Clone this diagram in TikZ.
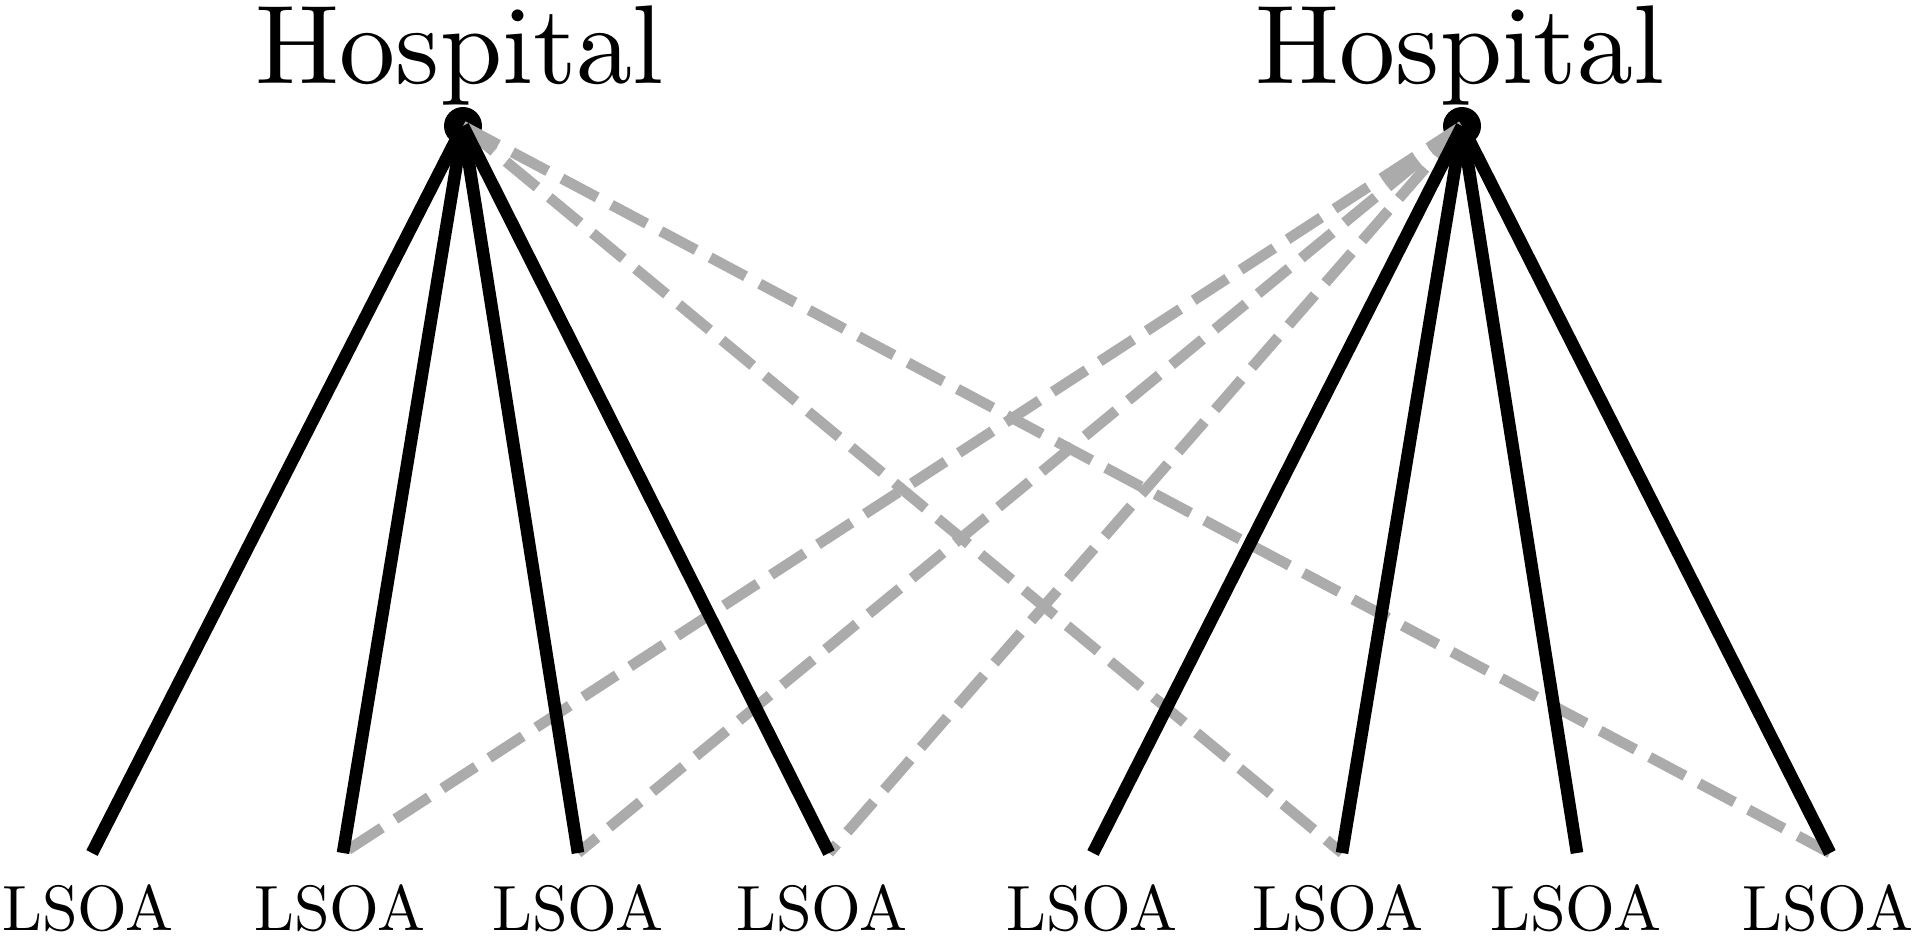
\documentclass[tikz,border=0pt]{standalone}
\font\hospfont="[lmroman10-regular]" at 56pt
\font\lsoafont="[lmroman10-regular]" at 32pt
\begin{document}
\begin{tikzpicture}[x=0.5pt,y=-0.5pt,
  hosp/.style={circle,fill=black,inner sep=0pt,minimum size=19pt},
  hlabel/.style={anchor=base,inner sep=0pt,font=\hospfont},
  llabel/.style={anchor=base,inner sep=0pt,font=\lsoafont},
  solidlink/.style={line width=6.3pt,black},
  dashlink/.style={line width=5.3pt,black!33,dash pattern=on 20pt off 8pt}]
\useasboundingbox (0,0) rectangle (1921,937);
% hospitals
\node[hosp] (h1) at (463,126) {};
\node[hosp] (h2) at (1462,126) {};
\node[hlabel] (h1t) at (460,83) {Hospital};
\node[hlabel] (h2t) at (1460,83) {Hospital};
% leaf end points
\coordinate (l1) at (92,853);
\coordinate (l2) at (343,853);
\coordinate (l3) at (578,853);
\coordinate (l4) at (829,853);
\coordinate (l5) at (1093,853);
\coordinate (l6) at (1342,853);
\coordinate (l7) at (1577,853);
\coordinate (l8) at (1830,853);
% labels
\node[llabel] (t1) at (88,930) {LSOA};
\node[llabel] (t2) at (340,930) {LSOA};
\node[llabel] (t3) at (578,930) {LSOA};
\node[llabel] (t4) at (822,930) {LSOA};
\node[llabel] (t5) at (1092,930) {LSOA};
\node[llabel] (t6) at (1338,930) {LSOA};
\node[llabel] (t7) at (1576,930) {LSOA};
\node[llabel] (t8) at (1828,930) {LSOA};
% dashed links
\draw[dashlink] (h1.center) -- (l6);
\draw[dashlink] (h1.center) -- (l8);
\draw[dashlink] (h2.center) -- (l2);
\draw[dashlink] (h2.center) -- (l3);
\draw[dashlink] (h2.center) -- (l4);
% solid links
\foreach \l in {l1,l2,l3,l4} \draw[solidlink] (h1.center) -- (\l);
\foreach \l in {l5,l6,l7,l8} \draw[solidlink] (h2.center) -- (\l);
\end{tikzpicture}
\end{document}
